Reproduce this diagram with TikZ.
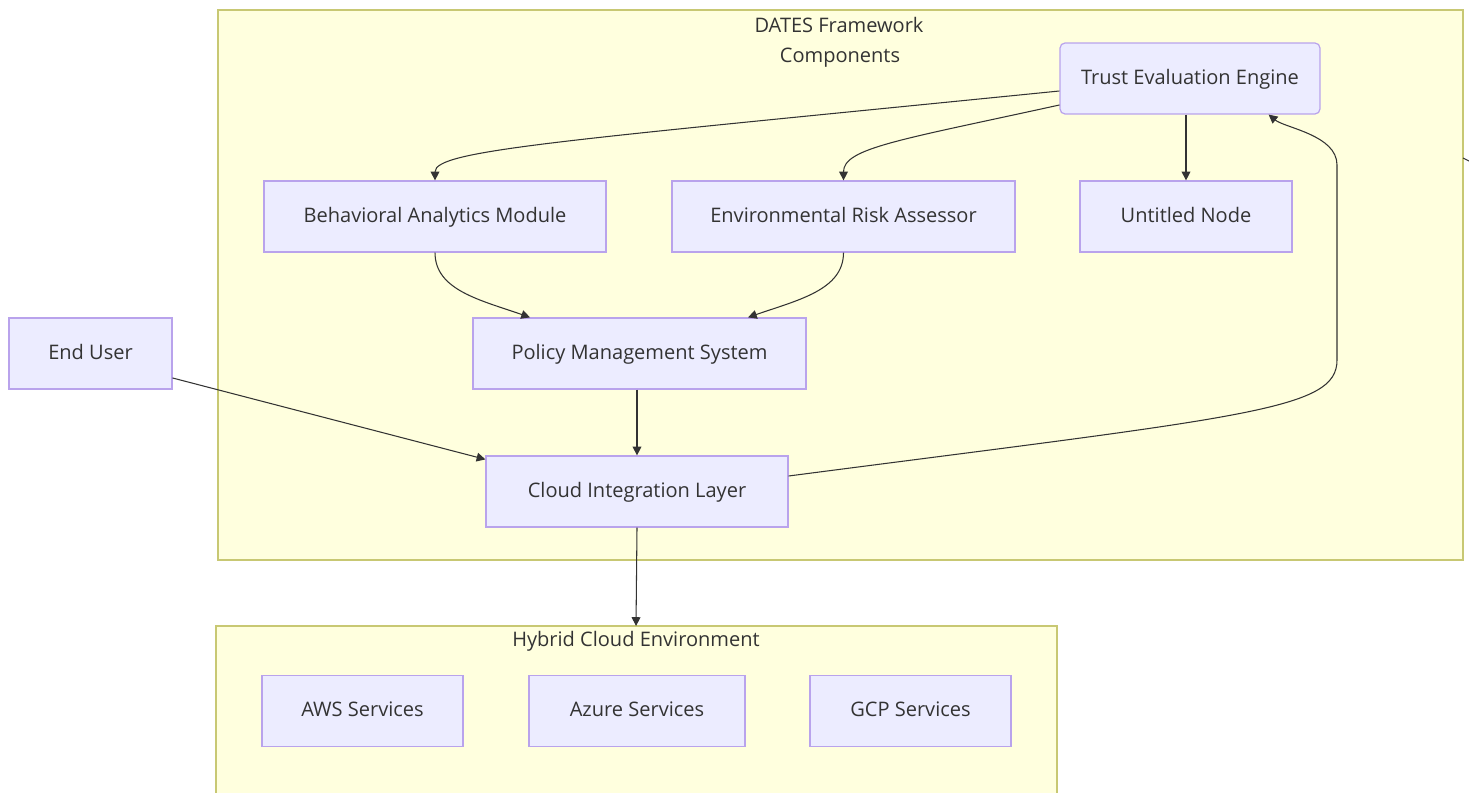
\documentclass[tikz,border=0pt]{standalone}
\usepackage{fontspec}
\setmainfont{Open Sans}
\usetikzlibrary{arrows.meta}
\definecolor{gialloc}{HTML}{FFFFDE}
\definecolor{bordoc}{HTML}{C8C873}
\definecolor{lilla}{HTML}{ECECFF}
\definecolor{viola}{HTML}{B9A3EC}
\definecolor{testo}{HTML}{333333}
\begin{document}
\begin{tikzpicture}[x=0.02cm,y=-0.02cm,
        font=\fontsize{11.4}{13}\selectfont,
        cluster/.style={draw=bordoc,fill=gialloc,line width=0.7pt},
        box/.style={draw=viola,fill=lilla,line width=0.7pt,text=testo,text height=1.6ex,text depth=.4ex,
            minimum height=1.42cm,minimum width=#1},
        freccia/.style={draw=testo,line width=0.6pt,-{Triangle[length=5pt,width=5pt]}}]
            \clip (0,0) rectangle (1469,793);
            \fill[white] (0,0) rectangle (1469,793);
            % Riquadri
            \draw[cluster] (218,10) rectangle (1463,560);
            \node[text=testo] (titolo1) at (839,25) {DATES Framework};
            \node[text=testo] (titolo2) at (840,58) {Components};
            \draw[cluster] (216,626) rectangle (1057,820);
            \coordinate (ibrido) at (636,626);
            \node[text=testo] (titolo3) at (636,641) {Hybrid Cloud Environment};
            % Nodi
            \node[box=5.2cm,rounded corners=0.1cm] (trust) at (1190,78.5) {Trust Evaluation Engine};
            \node[box=6.84cm] (behav) at (435,216.5) {Behavioral Analytics Module};
            \node[box=6.86cm] (env) at (843.5,216.5) {Environmental Risk Assessor};
            \node[box=4.24cm] (untitled) at (1186,216.5) {Untitled Node};
            \node[box=6.66cm] (policy) at (639.5,353.5) {Policy Management System};
            \node[box=3.26cm] (user) at (90.5,353.5) {End User};
            \node[box=6.04cm] (cloud) at (637,491.5) {Cloud Integration Layer};
            \node[box=4.02cm] (aws) at (362.5,711) {AWS Services};
            \node[box=4.32cm] (azure) at (637,711) {Azure Services};
            \node[box=4.02cm] (gcp) at (910.5,711) {GCP Services};
            % Frecce
            \draw[freccia] ([yshift=-0.25cm]trust.west) .. controls (560,141) and (435,150) .. (behav.north);
            \draw[freccia] ([yshift=-0.53cm]trust.west) .. controls (900,140) and (843.5,148) .. (env.north);
            \draw[freccia] (trust.south -| untitled.north) -- (untitled.north);
            \draw[freccia] (behav.south) .. controls (435,290) and (480,300) .. ([xshift=-2.19cm]policy.north);
            \draw[freccia] (env.south) .. controls (843.5,290) and (798,300) .. ([xshift=2.17cm]policy.north);
            \draw[freccia] (policy.south -| cloud.north) -- (cloud.north);
            \draw[freccia] ([yshift=-0.49cm]user.east) -- ([yshift=-0.08cm]cloud.north west);
            \draw[freccia] ([yshift=0.31cm]cloud.east) .. controls (1250,416) and (1337,410) .. (1337,360)
                -- (1337,165) .. controls (1337,135) and (1285,128) .. ([xshift=-1.04cm]trust.south east);
            \draw[freccia] (cloud.south) -- (ibrido);
            % Tratto sul bordo
            \coordinate (fuori) at (1463,158);
            \draw[draw=testo,line width=0.6pt] (fuori) -- ++(10,5);
        \end{tikzpicture}
\end{document}
